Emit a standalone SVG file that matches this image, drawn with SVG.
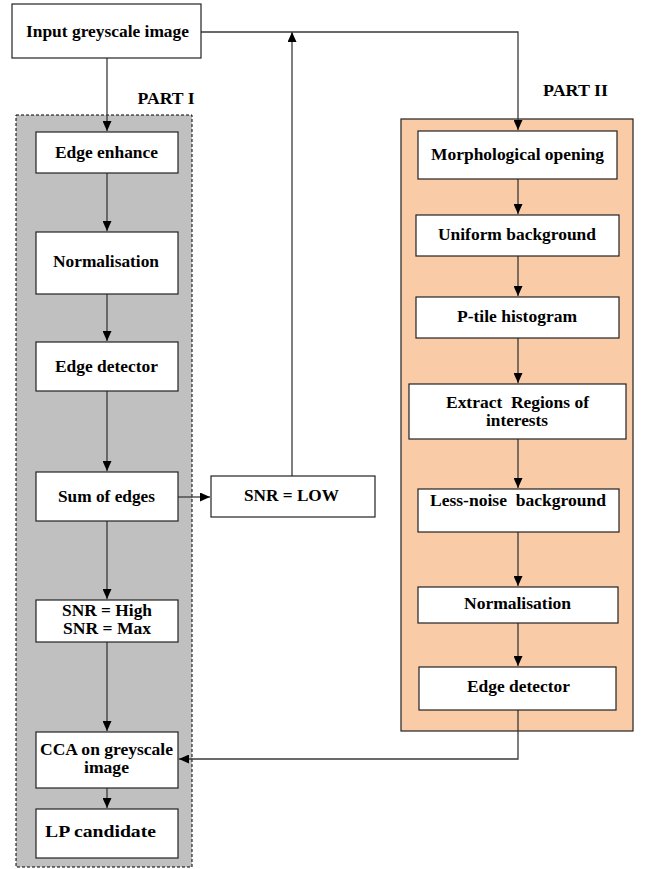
<svg xmlns="http://www.w3.org/2000/svg" width="651" height="869" viewBox="0 0 651 869">
<defs>
<style>
.box{fill:#fff;stroke:#222;stroke-width:1.2}
.t{font-family:"Liberation Serif","Times New Roman",serif;font-weight:bold;font-size:16px;fill:#000;text-anchor:middle;white-space:pre}
.c{fill:none;stroke:#3a3a3a;stroke-width:1.3}
</style>
<marker id="ah" markerWidth="10" markerHeight="9" refX="10" refY="4.5" orient="auto" markerUnits="userSpaceOnUse">
<path d="M0,0 L10,4.5 L0,9 z" fill="#000"/>
</marker>
</defs>
<rect width="651" height="869" fill="#fff"/>
<g id="part1">
<rect x="16" y="115" width="176" height="752" fill="#c0c0c0" stroke="#000" stroke-width="1" stroke-dasharray="3,2"/>
<text class="t" x="166" y="104" textLength="57" lengthAdjust="spacingAndGlyphs">PART I</text>
</g>
<g id="part2">
<rect x="401" y="119" width="232" height="612" fill="#f9cba6" stroke="#222" stroke-width="1.2"/>
<text class="t" x="575.5" y="96" textLength="65" lengthAdjust="spacingAndGlyphs">PART II</text>
</g>
<g id="connectors">
<path class="c" d="M107,58 V131" marker-end="url(#ah)"/>
<path class="c" d="M107,173 V231" marker-end="url(#ah)"/>
<path class="c" d="M107,294 V341" marker-end="url(#ah)"/>
<path class="c" d="M107,391 V471" marker-end="url(#ah)"/>
<path class="c" d="M107,521 V599" marker-end="url(#ah)"/>
<path class="c" d="M107,642 V731" marker-end="url(#ah)"/>
<path class="c" d="M107,788 V808" marker-end="url(#ah)"/>
<path class="c" d="M178,497 H210" marker-end="url(#ah)"/>
<path class="c" d="M292,476 V32" marker-end="url(#ah)"/>
<path class="c" d="M201,32 H518 V130" marker-end="url(#ah)"/>
<path class="c" d="M518,179 V214" marker-end="url(#ah)"/>
<path class="c" d="M518,256 V296" marker-end="url(#ah)"/>
<path class="c" d="M518,338 V383" marker-end="url(#ah)"/>
<path class="c" d="M518,439 V488" marker-end="url(#ah)"/>
<path class="c" d="M518,532 V586" marker-end="url(#ah)"/>
<path class="c" d="M518,623 V666" marker-end="url(#ah)"/>
<path class="c" d="M518,710 V759 H179" marker-end="url(#ah)"/>
</g>
<g id="input">
<rect class="box" x="12" y="4" width="189" height="54"/>
<text class="t" x="107.5" y="37" textLength="163" lengthAdjust="spacingAndGlyphs">Input greyscale image</text>
</g>
<g id="edge-enhance">
<rect class="box" x="36" y="132" width="142" height="41"/>
<text class="t" x="106.5" y="158" textLength="103" lengthAdjust="spacingAndGlyphs">Edge enhance</text>
</g>
<g id="normalisation1">
<rect class="box" x="36" y="232" width="142" height="62"/>
<text class="t" x="106" y="267" textLength="106" lengthAdjust="spacingAndGlyphs">Normalisation</text>
</g>
<g id="edge-detector1">
<rect class="box" x="36" y="342" width="142" height="49"/>
<text class="t" x="106.5" y="372" textLength="103" lengthAdjust="spacingAndGlyphs">Edge detector</text>
</g>
<g id="sum-edges">
<rect class="box" x="36" y="472" width="142" height="49"/>
<text class="t" x="106.5" y="502" textLength="97" lengthAdjust="spacingAndGlyphs">Sum of edges</text>
</g>
<g id="snr-low">
<rect class="box" x="211" y="476" width="164" height="41"/>
<text class="t" x="291.5" y="501" textLength="95" lengthAdjust="spacingAndGlyphs">SNR = LOW</text>
</g>
<g id="snr-high">
<rect class="box" x="36" y="600" width="142" height="42"/>
<text class="t" x="107" y="616" textLength="90" lengthAdjust="spacingAndGlyphs">SNR = High</text>
<text class="t" x="107" y="634" textLength="88" lengthAdjust="spacingAndGlyphs">SNR = Max</text>
</g>
<g id="cca">
<rect class="box" x="36" y="732" width="142" height="56"/>
<text class="t" x="106.5" y="755" textLength="133" lengthAdjust="spacingAndGlyphs">CCA on greyscale</text>
<text class="t" x="106.5" y="773" textLength="45" lengthAdjust="spacingAndGlyphs">image</text>
</g>
<g id="lp-candidate">
<rect class="box" x="36" y="809" width="142" height="49"/>
<text class="t" x="100.5" y="837" textLength="111" lengthAdjust="spacingAndGlyphs">LP candidate</text>
</g>
<g id="morph">
<rect class="box" x="418" y="131" width="199" height="48"/>
<text class="t" x="517.5" y="160" textLength="173" lengthAdjust="spacingAndGlyphs">Morphological opening</text>
</g>
<g id="uniform">
<rect class="box" x="416" y="215" width="203" height="41"/>
<text class="t" x="517" y="240" textLength="158" lengthAdjust="spacingAndGlyphs">Uniform background</text>
</g>
<g id="ptile">
<rect class="box" x="416" y="297" width="203" height="41"/>
<text class="t" x="517" y="322" textLength="120" lengthAdjust="spacingAndGlyphs">P-tile histogram</text>
</g>
<g id="extract">
<rect class="box" x="409" y="384" width="217" height="55"/>
<text class="t" x="517.5" y="408" textLength="143" lengthAdjust="spacingAndGlyphs">Extract  Regions of</text>
<text class="t" x="517" y="426" textLength="62" lengthAdjust="spacingAndGlyphs">interests</text>
</g>
<g id="less-noise">
<rect class="box" x="418" y="489" width="201" height="43"/>
<text class="t" x="518" y="506" textLength="176" lengthAdjust="spacingAndGlyphs">Less-noise  background</text>
</g>
<g id="normalisation2">
<rect class="box" x="418" y="587" width="200" height="36"/>
<text class="t" x="517.5" y="609" textLength="107" lengthAdjust="spacingAndGlyphs">Normalisation</text>
</g>
<g id="edge-detector2">
<rect class="box" x="419" y="667" width="197" height="43"/>
<text class="t" x="518.5" y="692" textLength="103" lengthAdjust="spacingAndGlyphs">Edge detector</text>
</g>
</svg>
